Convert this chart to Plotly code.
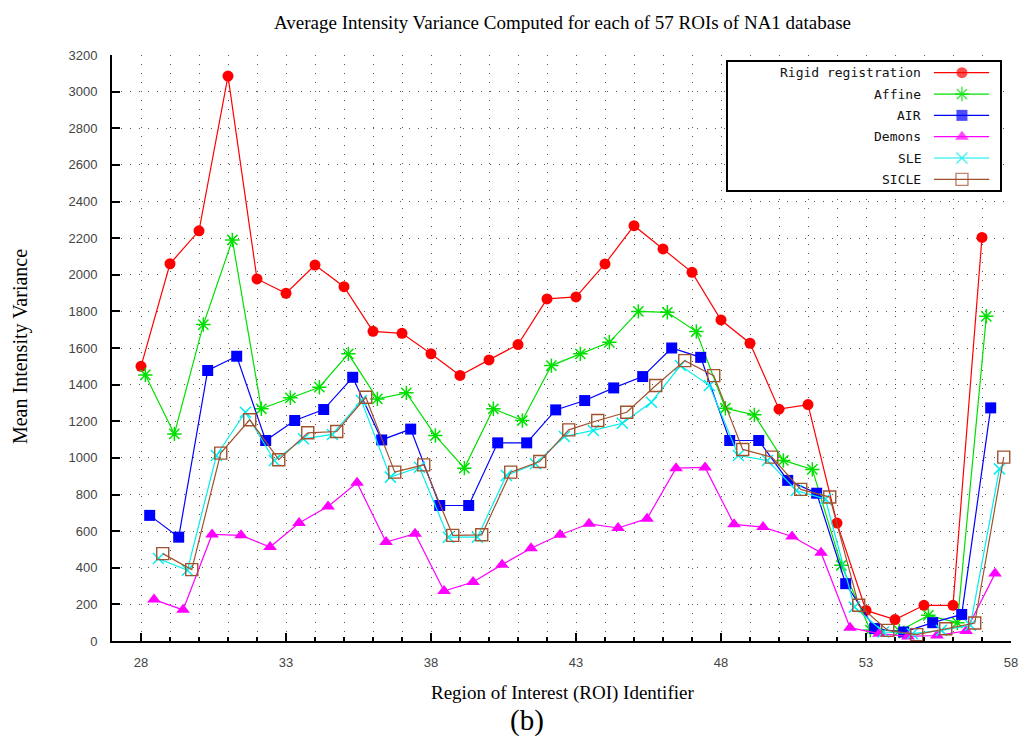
import plotly.graph_objects as go

# ---------------- data ----------------
roi_ids = list(range(28, 58))

series_names = ["Rigid registration", "Affine", "AIR", "Demons", "SLE", "SICLE"]

rigid = [1500, 2060, 2240, 3085, 1977, 1899, 2053, 1935, 1691, 1680, 1568, 1450, 1535, 1619,
         1868, 1879, 2059, 2268, 2141, 2013, 1753, 1626, 1266, 1291, 644, 167, 117, 195, 195, 2204]
affine = [1453, 1131, 1728, 2190, 1268, 1328, 1386, 1568, 1322, 1355, 1122, 944, 1268, 1204,
          1504, 1568, 1631, 1800, 1795, 1690, 1271, 1235, 986, 937, 413, 60, 55, 140, 100, 1773]
air = [686, 567, 1477, 1555, 1095, 1204, 1264, 1440, 1098, 1157, 740, 740, 1082, 1082,
       1262, 1313, 1382, 1444, 1600, 1549, 1095, 1095, 877, 807, 313, 68, 49, 100, 145, 1273]
demons = [226, 170, 582, 577, 513, 644, 735, 864, 540, 586, 273, 322, 417, 507,
          580, 640, 617, 668, 944, 948, 637, 622, 571, 482, 73, 40, 25, 30, 55, 368]
sle = [450, 386, 1013, 1249, 986, 1104, 1128, 1313, 895, 949, 567, 567, 904, 968,
       1117, 1150, 1189, 1304, 1504, 1395, 1013, 986, 822, 775, 186, 49, 40, 58, 86, 940]
sicle = [477, 390, 1026, 1208, 990, 1137, 1144, 1331, 922, 962, 577, 580, 922, 980,
         1153, 1204, 1249, 1395, 1531, 1449, 1046, 1004, 828, 786, 195, 58, 35, 67, 98, 1004]

series_values = [rigid, affine, air, demons, sle, sicle]

# ---------------- styles ----------------
x_offsets = [0.0, 0.15, 0.30, 0.45, 0.60, 0.75]
colors = ["#ff0000", "#00e000", "#0000ff", "#ff00ff", "#00eeee", "#a0522d"]
symbols = ["circle", "asterisk-open", "square", "triangle-up", "x-thin-open", "square-open"]
sizes = [11, 12, 11, 12, 11, 12]
mline = [0, 1.5, 0, 0, 1.5, 1.4]

fig = go.Figure()

for name, vals, off, c, s, sz, lw in zip(series_names, series_values, x_offsets, colors, symbols, sizes, mline):
    fig.add_trace(go.Scatter(
        x=[r + off for r in roi_ids], y=vals, mode="lines+markers", name=name,
        line=dict(color=c, width=1.2),
        marker=dict(symbol=s, size=sz, color=c, line=dict(color=c, width=lw)),
        showlegend=False, xaxis="x", yaxis="y", hoverinfo="x+y+name"))

# ---------------- custom legend (symbol to the right of the text) ----------------
n = len(series_names)
for i, (name, c, s, sz, lw) in enumerate(zip(series_names, colors, symbols, sizes, mline)):
    yy = 1 - (i + 0.5) / n
    fig.add_trace(go.Scatter(
        x=[0.757, 0.86, 0.96], y=[yy, yy, yy], mode="lines+markers",
        line=dict(color=c, width=1.2),
        marker=dict(symbol=s, size=[0, sz, 0], color=c, line=dict(color=c, width=lw)),
        showlegend=False, xaxis="x2", yaxis="y2", hoverinfo="skip"))
    fig.add_annotation(x=0.715, y=yy, xref="x2", yref="y2", text=name, showarrow=False,
                       xanchor="right", yanchor="middle",
                       font=dict(family="DejaVu Sans Mono", size=13, color="#111"))

grid_dash = "1px,8px"
grid_color = "#555555"
tick_font = dict(family="Liberation Sans", size=13, color="#444444")

fig.update_layout(
    width=1023, height=740,
    margin=dict(l=112, r=12, t=55, b=99, autoexpand=False),
    paper_bgcolor="white", plot_bgcolor="white",
    xaxis=dict(
        range=[27, 58], tick0=28, dtick=5, ticks="inside", ticklen=8, tickwidth=2, tickcolor="black",
        showline=True, linecolor="black", linewidth=2, zeroline=False, automargin=False,
        showgrid=True, gridcolor=grid_color, griddash=grid_dash, gridwidth=1,
        tickfont=tick_font, ticklabelstandoff=8,
        minor=dict(tick0=28, dtick=1, ticks="inside", ticklen=4, tickwidth=1.5, tickcolor="black",
                   showgrid=True, gridcolor=grid_color, griddash=grid_dash, gridwidth=1),
    ),
    yaxis=dict(
        range=[0, 3200], dtick=200, ticks="inside", ticklen=8, tickwidth=2, tickcolor="black",
        showline=True, linecolor="black", linewidth=2, zeroline=False, automargin=False,
        showgrid=True, gridcolor=grid_color, griddash=grid_dash, gridwidth=1,
        tickfont=tick_font, ticklabelstandoff=10,
    ),
    xaxis2=dict(domain=[0.6852, 0.9878], range=[0, 1], anchor="y2", showline=True, mirror=True,
                linecolor="black", linewidth=2, showgrid=False, zeroline=False, automargin=False,
                showticklabels=False, ticks="", fixedrange=True),
    yaxis2=dict(domain=[0.7696, 0.988], range=[0, 1], anchor="x2", showline=True, mirror=True,
                linecolor="black", linewidth=2, showgrid=False, zeroline=False, automargin=False,
                showticklabels=False, ticks="", fixedrange=True),
    showlegend=False,
)

serif = "Liberation Serif"
fig.add_annotation(x=0.5006, y=1.0563, xref="paper", yref="paper", showarrow=False,
                   text="Average Intensity Variance Computed for each of 57 ROIs of NA1 database",
                   font=dict(family=serif, size=19, color="black"), xanchor="center", yanchor="middle")
fig.add_annotation(x=0.5006, y=-0.0887, xref="paper", yref="paper", showarrow=False,
                   text="Region of Interest (ROI) Identifier",
                   font=dict(family=serif, size=19, color="black"), xanchor="center", yanchor="middle")
fig.add_annotation(x=-0.1023, y=0.5017, xref="paper", yref="paper", showarrow=False,
                   text="Mean Intensity Variance", textangle=-90,
                   font=dict(family=serif, size=20, color="black"), xanchor="center", yanchor="middle")
fig.add_annotation(x=0.4616, y=-0.1365, xref="paper", yref="paper", showarrow=False,
                   text="(b)",
                   font=dict(family=serif, size=29, color="black"), xanchor="center", yanchor="middle")

fig.write_html("out.html")
